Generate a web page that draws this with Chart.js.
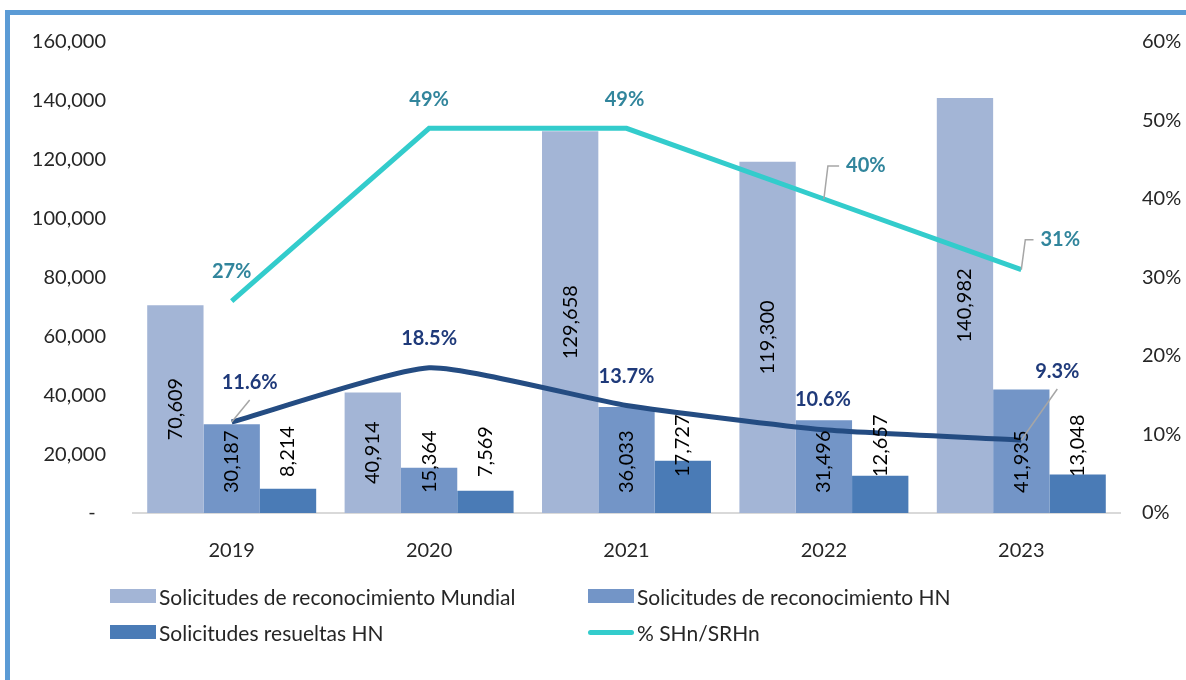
<!DOCTYPE html>
<html lang="es">
<head>
    <meta charset="UTF-8">
    <title>Solicitudes de reconocimiento</title>
    <script src="https://cdn.jsdelivr.net/npm/chart.js"></script>
    <style>
        html, body {
            margin: 0;
            padding: 0;
            background: #ffffff;
        }
        .frame {
            position: absolute;
            left: 5px;
            top: 10px;
            width: 1181px;
            height: 670px;
            border-left: 5px solid #5B9BD5;
            border-top: 5px solid #5B9BD5;
            box-sizing: border-box;
        }
        #wrap {
            position: absolute;
            left: 0;
            top: 0;
            width: 1186px;
            height: 680px;
        }
        #legend {
            position: absolute;
            left: 110px;
            top: 584px;
            display: grid;
            grid-template-columns: 478px 400px;
            row-gap: 12px;
            font-family: Lato, sans-serif;
            font-size: 21px;
            color: #262626;
        }
        .item {
            display: flex;
            align-items: center;
            height: 24px;
        }
        .swatch {
            width: 46px;
            height: 14px;
            margin-right: 3px;
        }
        .swatch.line {
            height: 5px;
            border-radius: 3px;
        }
    </style>
</head>
<body>
    <div class="frame"></div>
    <div id="wrap"><canvas id="chart" width="1186" height="680"></canvas></div>
    <div id="legend"></div>

    <script>
        const years = ['2019', '2020', '2021', '2022', '2023'];
        const mundial = [70609, 40914, 129658, 119300, 140982];
        const reconocHN = [30187, 15364, 36033, 31496, 41935];
        const resueltasHN = [8214, 7569, 17727, 12657, 13048];
        const pctSHn = [27, 49, 49, 40, 31];
        const pctNavy = [11.6, 18.5, 13.7, 10.6, 9.3];
        const leftTicks = [0, 20000, 40000, 60000, 80000, 100000, 120000, 140000, 160000];
        const rightTicks = [0, 10, 20, 30, 40, 50, 60];

        // where the line labels sit relative to their point (like the hand-moved Excel labels)
        const tealLabelPos = [[0, -30], [0, -29], [-2, -29], [42, -33], [39, -30]];
        const tealLeader = [false, false, false, true, true];
        const navyLabelPos = [[18, -39], [0, -29], [0, -29], [-1, -30], [36, -68]];
        const navyLeader = [true, false, false, false, true];

        const FONT = 'Lato, sans-serif';
        const fmt = v => v.toLocaleString('en-US');

        const labelPlugin = {
            id: 'labels',
            afterDatasetsDraw(chart) {
                const ctx = chart.ctx;
                ctx.save();

                // bar labels, vertical text
                ctx.font = '20px ' + FONT;
                ctx.fillStyle = '#000000';
                ctx.textBaseline = 'middle';
                [0, 1, 2].forEach(di => {
                    const meta = chart.getDatasetMeta(di);
                    const vals = chart.data.datasets[di].data;
                    meta.data.forEach((bar, i) => {
                        const txt = fmt(vals[i]);
                        ctx.save();
                        if (di === 0) {
                            ctx.translate(bar.x, (bar.y + bar.base) / 2);
                            ctx.rotate(-Math.PI / 2);
                            ctx.textAlign = 'center';
                        } else {
                            ctx.translate(bar.x, bar.base - (di === 1 ? 20 : 36));
                            ctx.rotate(-Math.PI / 2);
                            ctx.textAlign = 'left';
                        }
                        ctx.fillText(txt, 0, 0);
                        ctx.restore();
                    });
                });

                // line labels
                const drawLineLabels = (di, vals, pos, leader, color, dec) => {
                    const meta = chart.getDatasetMeta(di);
                    ctx.font = 'bold 20px ' + FONT;
                    meta.data.forEach((pt, i) => {
                        const txt = (dec ? vals[i].toFixed(1) : vals[i]) + '%';
                        const lx = pt.x + pos[i][0];
                        const ly = pt.y + pos[i][1];
                        const w = ctx.measureText(txt).width;
                        if (leader[i]) {
                            ctx.strokeStyle = '#A6A6A6';
                            ctx.lineWidth = 1.5;
                            ctx.beginPath();
                            ctx.moveTo(pt.x, pt.y);
                            if (dec) {
                                ctx.lineTo(lx, ly + 17);
                            } else {
                                ctx.lineTo(pt.x + 4, ly);
                                ctx.lineTo(lx - w / 2 - 7, ly);
                            }
                            ctx.stroke();
                        }
                        ctx.fillStyle = color;
                        ctx.textAlign = 'center';
                        ctx.textBaseline = 'middle';
                        ctx.fillText(txt, lx, ly);
                    });
                };
                drawLineLabels(3, pctSHn, tealLabelPos, tealLeader, '#31859C', false);
                drawLineLabels(4, pctNavy, navyLabelPos, navyLeader, '#1F3A7A', true);

                ctx.restore();
            }
        };

        const config = {
            type: 'bar',
            data: {
                labels: years,
                datasets: [
                    { label: 'Solicitudes de reconocimiento Mundial', data: mundial, backgroundColor: '#A3B5D6', yAxisID: 'y', order: 2, inLegend: true },
                    { label: 'Solicitudes de reconocimiento HN', data: reconocHN, backgroundColor: '#7395C7', yAxisID: 'y', order: 2, inLegend: true },
                    { label: 'Solicitudes resueltas HN', data: resueltasHN, backgroundColor: '#4A7BB6', yAxisID: 'y', order: 2, inLegend: true },
                    { type: 'line', label: '% SHn/SRHn', data: pctSHn, borderColor: '#33CCCC', backgroundColor: '#33CCCC', borderWidth: 5, pointRadius: 0, tension: 0, yAxisID: 'y1', order: 1, inLegend: true },
                    { type: 'line', label: '% resueltas', data: pctNavy, borderColor: '#244C82', backgroundColor: '#244C82', borderWidth: 5, pointRadius: 0, tension: 0.17, yAxisID: 'y1', order: 0, inLegend: false }
                ]
            },
            options: {
                responsive: false,
                animation: false,
                layout: { padding: { top: 42, left: 0, right: 0, bottom: 0 } },
                datasets: {
                    bar: { barPercentage: 1, categoryPercentage: 0.856 }
                },
                plugins: {
                    legend: { display: false },
                    tooltip: { enabled: false }
                },
                scales: {
                    x: {
                        grid: { display: false },
                        border: { display: true, color: '#D9D9D9', width: 2 },
                        ticks: { color: '#262626', font: { family: FONT, size: 20 }, padding: 18 },
                        afterFit: s => { s.height = 167; }
                    },
                    y: {
                        position: 'left',
                        min: 0,
                        max: 160000,
                        afterBuildTicks: s => { s.ticks = leftTicks.map(v => ({ value: v })); },
                        grid: { display: false, drawTicks: false },
                        border: { display: false },
                        ticks: {
                            color: '#262626',
                            font: { family: FONT, size: 20 },
                            padding: 27,
                            callback: v => v === 0 ? '-  ' : fmt(v)
                        },
                        afterFit: s => { s.width = 133; }
                    },
                    y1: {
                        position: 'right',
                        min: 0,
                        max: 60,
                        afterBuildTicks: s => { s.ticks = rightTicks.map(v => ({ value: v })); },
                        grid: { display: false, drawTicks: false },
                        border: { display: false },
                        ticks: {
                            color: '#262626',
                            font: { family: FONT, size: 20 },
                            padding: 22,
                            callback: v => v + '%'
                        },
                        afterFit: s => { s.width = 66; }
                    }
                }
            },
            plugins: [labelPlugin]
        };

        const chart = new Chart(document.getElementById('chart').getContext('2d'), config);

        // legend in two columns, like the original
        const legend = document.getElementById('legend');
        chart.data.datasets.filter(d => d.inLegend).forEach(d => {
            const item = document.createElement('div');
            item.className = 'item';
            const sw = document.createElement('span');
            sw.className = 'swatch' + (d.type === 'line' ? ' line' : '');
            sw.style.background = d.type === 'line' ? d.borderColor : d.backgroundColor;
            const tx = document.createElement('span');
            tx.textContent = d.label;
            item.appendChild(sw);
            item.appendChild(tx);
            legend.appendChild(item);
        });
    </script>
</body>
</html>
